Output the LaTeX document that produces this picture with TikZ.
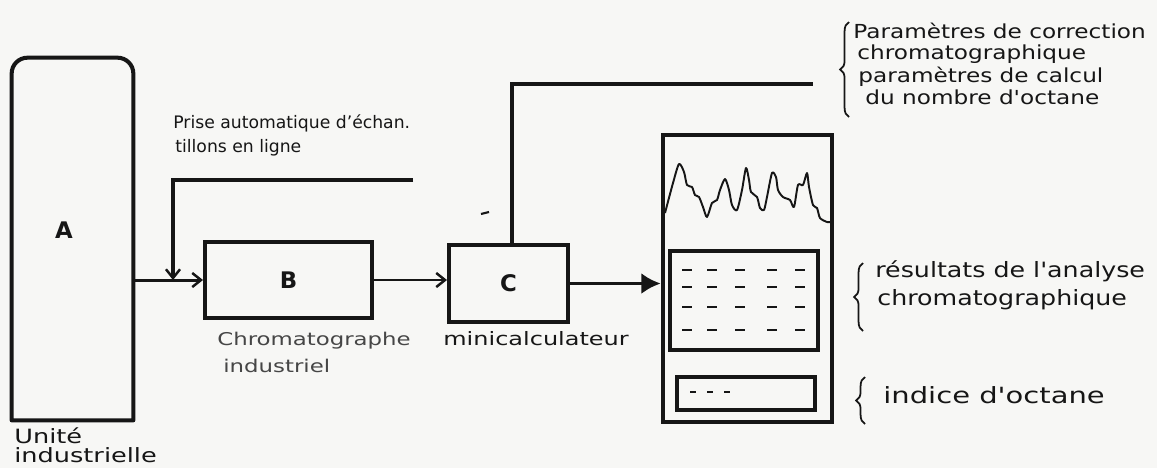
\documentclass[tikz,border=0pt]{standalone}
\usepackage{fontspec}
\setmainfont{DejaVu Sans}
\newfontfamily\handB[FakeStretch=1.2]{DejaVu Sans}
\newfontfamily\handC[FakeStretch=1.3]{DejaVu Sans}
\usetikzlibrary{arrows.meta,decorations.pathreplacing}
\definecolor{inkc}{RGB}{22,22,22}
\definecolor{softink}{RGB}{70,70,70}
\definecolor{paper}{RGB}{247,247,245}
\begin{document}
\begin{tikzpicture}[x=0.02cm,y=-0.02cm,
  boxline/.style={draw=inkc, line width=2.3pt},
  boxnode/.style={boxline, inner sep=0pt, font=\fontsize{13}{15}\selectfont\bfseries, text=inkc},
  ghost/.style={inner sep=0pt},
  lbl/.style={inner sep=0pt, text=inkc, anchor=base west},
  open tip/.style={-{Straight Barb[length=5pt,width=8pt,line width=1.4pt]}},
  fill tip/.style={-{Latex[length=11pt,width=12pt]}},
  tick/.style={draw=inkc, line width=1.3pt},
  hbrace/.style={draw=inkc, line width=1pt, decorate, decoration={brace, amplitude=5pt}}
]
\fill[paper] (0,0) rectangle (1157,468);
\useasboundingbox (0,0) rectangle (1157,468);

% --- A: unite industrielle (rounded top corners)
\node[ghost, minimum width=2.42cm, minimum height=7.24cm] (A) at (72.5,239) {};
\draw[boxline, line join=round]
  (A.south west) -- ([yshift=-9pt]A.north west)
  arc[start angle=180, end angle=90, radius=9pt]
  -- ([xshift=-9pt]A.north east)
  arc[start angle=90, end angle=0, radius=9pt]
  -- (A.south east) -- cycle;
\node[inner sep=0pt, font=\fontsize{13}{15}\selectfont\bfseries, text=inkc] (Alab) at (64,230) {A};

% --- B, C
\node[boxnode, minimum width=3.34cm, minimum height=1.52cm] (B) at (288.5,280) {B};
\node[boxnode, minimum width=2.38cm, minimum height=1.54cm] (C) at (508.5,283.5) {C};

% --- D: display
\node[boxline, line width=2.6pt, inner sep=0pt, minimum width=3.38cm, minimum height=5.74cm] (D) at (747.5,278.5) {};
\node[boxline, inner sep=0pt, minimum width=2.96cm, minimum height=1.98cm] (R) at (744,300.5) {};
\node[boxline, inner sep=0pt, minimum width=2.76cm, minimum height=0.66cm] (O) at (746,393.5) {};

% chromatogram trace
\draw[draw=inkc, line width=1.1pt, line join=round]
  plot[smooth, tension=0.45] coordinates {
  (665,213) (673,183) (679,164) (684,172) (687,185) (692,187) (695,195) (699,197)
  (703,207) (707,217) (712,203) (717,200) (720,190) (725,179) (729,190) (732,205)
  (737,210) (742,190) (746,168) (749,180) (751,192) (757,197) (760,208) (764,210)
  (767,197) (772,173) (776,177) (778,190) (783,197) (790,200) (794,207) (798,185)
  (803,185) (807,173) (809,187) (813,205) (817,208) (820,218) (827,222) (830,222)};

% result dashes
\foreach \yy in {270,287,307,330} {
  \foreach \xx in {687,712,740,772,800} {
    \draw[tick] (\xx-5,\yy) -- (\xx+5,\yy);
  }
}
% octane dashes
\foreach \xx in {693,710,727} {
  \draw[tick, line width=1.6pt] (\xx-3,392) -- (\xx+3,392);
}

% --- connectors
\coordinate (j) at (173,280);
\coordinate (fb) at (413,180);
\coordinate (pe) at (813,84);
\coordinate (mk1) at (481,214);
\coordinate (mk2) at (489,212);

\draw[draw=inkc, line width=1.7pt, open tip] (A.east |- B.west) -- (B.west);
\draw[draw=inkc, line width=2pt, open tip] (fb) -| (j);
\draw[draw=inkc, line width=1.2pt, open tip] (B.east) -- (C.west |- B.east);
\draw[draw=inkc, line width=2.2pt, fill tip] (C.east) -- (D.west |- C.east);
\draw[draw=inkc, line width=2pt] ([xshift=2pt]C.north) |- (pe);
\draw[draw=inkc, line width=1.2pt] (mk1) -- (mk2);

% --- labels
\node[lbl, font=\fontsize{9.8}{12}\selectfont] (prise1) at (173,128) {Prise automatique d'échan.};
\node[lbl, font=\fontsize{9.8}{12}\selectfont] (prise2) at (175,152) {tillons en ligne};

\node[lbl, font=\handC\fontsize{11.2}{12}\selectfont] (unite1) at (14,443) {Unité};
\node[lbl, font=\handC\fontsize{11.2}{12}\selectfont] (unite2) at (14,462) {industrielle};

\node[lbl, font=\handC\fontsize{10}{12}\selectfont, text=softink] (chrom1) at (217,345) {Chromatographe};
\node[lbl, font=\handC\fontsize{10}{12}\selectfont, text=softink] (chrom2) at (223,372) {industriel};

\node[lbl, font=\handC\fontsize{10.5}{12}\selectfont] (mini) at (443,345) {minicalculateur};

% right-hand braces and texts
\draw[hbrace] (849,117) -- (849,22);
\node[lbl, font=\handB\fontsize{11}{12}\selectfont] (par1) at (853,38) {Paramètres de correction};
\node[lbl, font=\handB\fontsize{11}{12}\selectfont] (par2) at (857,59) {chromatographique};
\node[lbl, font=\handB\fontsize{11}{12}\selectfont] (par3) at (858,82) {paramètres de calcul};
\node[lbl, font=\handB\fontsize{11}{12}\selectfont] (par4) at (865,104) {du nombre d'octane};

\draw[hbrace] (863,331) -- (863,263);
\node[lbl, font=\handB\fontsize{12}{12}\selectfont] (res1) at (875,277) {résultats de l'analyse};
\node[lbl, font=\handB\fontsize{12}{12}\selectfont] (res2) at (877,305) {chromatographique};

\draw[hbrace] (865,424) -- (865,377);
\node[lbl, font=\handC\fontsize{12.7}{12}\selectfont] (ind) at (883,403) {indice d'octane};
\end{tikzpicture}
\end{document}
